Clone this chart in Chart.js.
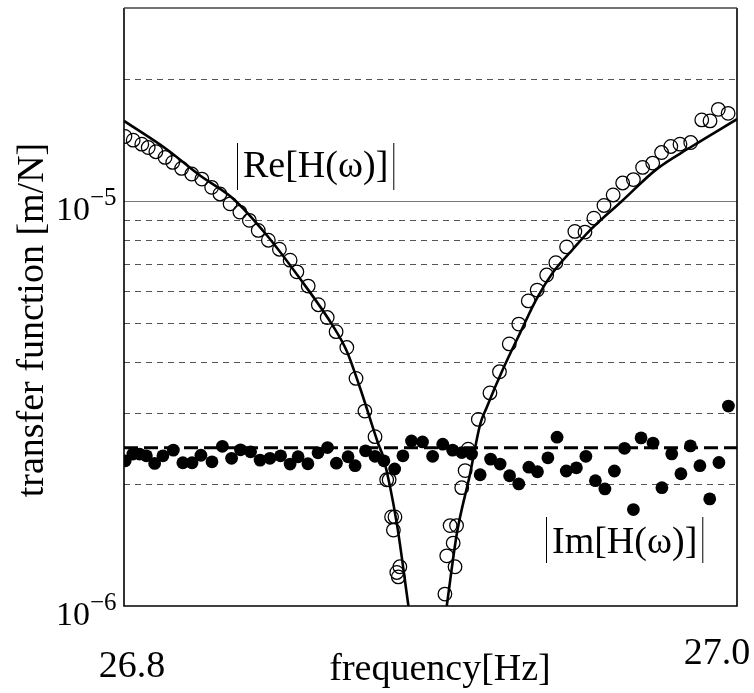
<!DOCTYPE html>
<html>
<head>
<meta charset="utf-8">
<script src="https://cdn.jsdelivr.net/npm/chart.js@4.4.0/dist/chart.umd.min.js"></script>
<style>
  html, body { margin: 0; padding: 0; background: #fff; }
  canvas { display: block; }
</style>
</head>
<body>
<canvas id="chart" width="754" height="693"></canvas>
<script>
// measured |Re[H(w)]| (open circles)
const reFreq = [26.8003, 26.8030, 26.8058, 26.8079, 26.8104, 26.8134, 26.8159, 26.8188, 26.8221, 26.8254,
  26.8286, 26.8313, 26.8346, 26.8378, 26.8409, 26.8438, 26.8471, 26.8507, 26.8542, 26.8564,
  26.8601, 26.8634, 26.8663, 26.8692, 26.8727, 26.8757, 26.8786, 26.8819, 26.8857, 26.8865,
  26.8873, 26.8884, 26.8879, 26.8900, 26.8890, 26.8895,
  26.9047, 26.9053, 26.9074, 26.9064, 26.9085, 26.9080, 26.9102, 26.9113, 26.9123, 26.9156,
  26.9194, 26.9225, 26.9257, 26.9288, 26.9319, 26.9348, 26.9379, 26.9409, 26.9444, 26.9471,
  26.9504, 26.9533, 26.9566, 26.9596, 26.9627, 26.9662, 26.9692, 26.9725, 26.9754, 26.9784,
  26.9814, 26.9849, 26.9885, 26.9912, 26.9939, 26.9971];
const reAmp = [14.45e-6, 14.15e-6, 13.83e-6, 13.57e-6, 13.25e-6, 12.83e-6, 12.47e-6, 12.05e-6, 11.67e-6, 11.34e-6,
  10.82e-6, 10.42e-6, 9.85e-6, 9.40e-6, 8.97e-6, 8.47e-6, 8.01e-6, 7.61e-6, 7.15e-6, 6.69e-6,
  6.17e-6, 5.55e-6, 5.16e-6, 4.76e-6, 4.35e-6, 3.65e-6, 3.03e-6, 2.62e-6, 2.05e-6, 2.05e-6,
  1.66e-6, 1.66e-6, 1.54e-6, 1.25e-6, 1.21e-6, 1.18e-6,
  1.07e-6, 1.33e-6, 1.43e-6, 1.58e-6, 1.58e-6, 1.25e-6, 1.96e-6, 2.16e-6, 2.44e-6, 2.89e-6,
  3.36e-6, 3.79e-6, 4.44e-6, 4.97e-6, 5.67e-6, 6.03e-6, 6.57e-6, 7.05e-6, 7.71e-6, 8.42e-6,
  8.39e-6, 9.08e-6, 9.76e-6, 10.36e-6, 11.09e-6, 11.31e-6, 12.12e-6, 12.42e-6, 13.19e-6, 13.65e-6,
  13.83e-6, 13.96e-6, 15.88e-6, 15.79e-6, 16.86e-6, 16.48e-6];

// measured |Im[H(w)]| (filled circles)
const imFreq = [26.8004, 26.8029, 26.8051, 26.8073, 26.8100, 26.8127, 26.8161, 26.8192, 26.8222, 26.8251,
  26.8287, 26.8321, 26.8351, 26.8380, 26.8413, 26.8444, 26.8476, 26.8511, 26.8542, 26.8568,
  26.8600, 26.8633, 26.8664, 26.8693, 26.8731, 26.8754, 26.8788, 26.8819, 26.8848, 26.8883,
  26.8910, 26.8938, 26.8974, 26.9007, 26.9040, 26.9072, 26.9102, 26.9134, 26.9162, 26.9196,
  26.9227, 26.9258, 26.9288, 26.9321, 26.9349, 26.9383, 26.9413, 26.9443, 26.9476, 26.9507,
  26.9538, 26.9569, 26.9600, 26.9633, 26.9662, 26.9687, 26.9726, 26.9755, 26.9787, 26.9817,
  26.9848, 26.9879, 26.9911, 26.9941, 26.9972];
const imAmp = [2.284e-6, 2.373e-6, 2.373e-6, 2.350e-6, 2.250e-6, 2.350e-6, 2.427e-6, 2.259e-6, 2.259e-6, 2.357e-6,
  2.271e-6, 2.480e-6, 2.317e-6, 2.431e-6, 2.404e-6, 2.293e-6, 2.317e-6, 2.350e-6, 2.242e-6, 2.337e-6,
  2.246e-6, 2.390e-6, 2.463e-6, 2.253e-6, 2.337e-6, 2.221e-6, 2.417e-6, 2.343e-6, 2.284e-6, 2.180e-6,
  2.350e-6, 2.557e-6, 2.543e-6, 2.343e-6, 2.510e-6, 2.427e-6, 2.394e-6, 2.373e-6, 2.110e-6, 2.306e-6,
  2.242e-6, 2.098e-6, 2.002e-6, 2.202e-6, 2.146e-6, 2.323e-6, 2.612e-6, 2.155e-6, 2.195e-6, 2.343e-6,
  2.040e-6, 1.946e-6, 2.155e-6, 2.452e-6, 1.731e-6, 2.602e-6, 2.526e-6, 1.960e-6, 2.376e-6, 2.122e-6,
  2.486e-6, 2.221e-6, 1.839e-6, 2.262e-6, 3.118e-6];

// fitted curve for |Re| (null splits the two branches)
const fitReFreq = [26.8000, 26.8139, 26.8248, 26.8357, 26.8466, 26.8574, 26.8683, 26.8727, 26.8770, 26.8830,
  26.8846, 26.8890, 26.8928, 26.8990,
  26.9053, 26.9086, 26.9129, 26.9162, 26.9183, 26.9238, 26.9292, 26.9347, 26.9401, 26.9466,
  26.9520, 26.9624, 26.9738, 26.9847, 27.0000];
const fitReAmp = [15.79e-6, 13.44e-6, 11.57e-6, 10.13e-6, 8.24e-6, 6.44e-6, 4.90e-6, 4.26e-6, 3.46e-6, 2.51e-6,
  2.33e-6, 1.60e-6, 1.00e-6, null,
  1.00e-6, 1.51e-6, 2.12e-6, 2.81e-6, 3.09e-6, 3.87e-6, 4.72e-6, 5.75e-6, 6.69e-6, 7.63e-6,
  8.47e-6, 10.0e-6, 12.0e-6, 13.57e-6, 15.95e-6];

// fitted level for |Im|
const fitImFreq = [26.8, 27.0];
const fitImAmp = [2.46e-6, 2.46e-6];

// axes
const xRange = [26.8, 27.0];
const yRange = [1e-6, 3e-5];
const gridValues = [2e-6, 3e-6, 4e-6, 5e-6, 6e-6, 7e-6, 8e-6, 9e-6, 1e-5, 2e-5];
const yTicks = [1e-6, 1e-5];
const yTickExp = ['\u22126', '\u22125'];
const xTicks = [26.8, 27.0];
const xTickLabels = ['26.8', '27.0'];

const SERIF = '"Liberation Serif", "DejaVu Serif", serif';

function pts(xs, ys) {
  return xs.map((x, i) => ({ x: x, y: ys[i] }));
}

const framePlugin = {
  id: 'frame',
  beforeDatasetsDraw(chart) {
    const { ctx, chartArea: a, scales: { y } } = chart;
    ctx.save();
    gridValues.forEach(v => {
      const py = Math.round(y.getPixelForValue(v)) + 0.5;
      ctx.beginPath();
      if (v === 1e-5) {
        ctx.setLineDash([]);
        ctx.strokeStyle = '#777';
        ctx.lineWidth = 1.2;
      } else {
        ctx.setLineDash([6, 5]);
        ctx.strokeStyle = '#555';
        ctx.lineWidth = 1;
      }
      ctx.moveTo(a.left, py);
      ctx.lineTo(a.right, py);
      ctx.stroke();
    });
    ctx.restore();
  },
  afterDatasetsDraw(chart) {
    const { ctx, chartArea: a, scales: { x, y } } = chart;
    ctx.save();
    // frame
    ctx.setLineDash([]);
    ctx.strokeStyle = '#000';
    ctx.lineWidth = 1.6;
    ctx.beginPath();
    ctx.moveTo(a.left, a.top);
    ctx.lineTo(a.left, a.bottom);
    ctx.lineTo(a.right, a.bottom);
    ctx.lineTo(a.right, a.top);
    ctx.stroke();
    ctx.strokeStyle = '#444';
    ctx.lineWidth = 1.4;
    ctx.beginPath();
    ctx.moveTo(a.left, a.top);
    ctx.lineTo(a.right, a.top);
    ctx.stroke();

    ctx.fillStyle = '#000';
    ctx.textBaseline = 'alphabetic';

    // y tick labels 10^n
    yTicks.forEach((v, i) => {
      const py = y.getPixelForValue(v);
      ctx.font = '34px ' + SERIF;
      ctx.textAlign = 'right';
      ctx.fillText('10', 90, py + 19);
      ctx.font = '25px ' + SERIF;
      ctx.textAlign = 'left';
      ctx.fillText(yTickExp[i], 90, py + 4);
    });

    // x tick labels
    ctx.font = '38px ' + SERIF;
    ctx.textAlign = 'center';
    ctx.fillText(xTickLabels[0], x.getPixelForValue(xTicks[0]) + 8, 677);
    ctx.fillText(xTickLabels[1], x.getPixelForValue(xTicks[1]) - 20, 664);

    // axis titles
    ctx.fillText('frequency[Hz]', 440, 680);
    ctx.save();
    ctx.translate(43, 320);
    ctx.rotate(-Math.PI / 2);
    ctx.fillText('transfer function [m/N]', 0, 0);
    ctx.restore();

    // curve labels with |...| bars
    ctx.textAlign = 'left';
    ctx.lineWidth = 1;
    const label = (txt, x0, base, top, bot) => {
      ctx.fillText(txt, x0 + 6, base);
      const w = ctx.measureText(txt).width;
      ctx.beginPath();
      ctx.moveTo(x0 + 0.5, top);
      ctx.lineTo(x0 + 0.5, bot);
      ctx.moveTo(x0 + w + 11.5, top);
      ctx.lineTo(x0 + w + 11.5, bot);
      ctx.strokeStyle = '#000';
      ctx.stroke();
    };
    label('Re[H(\u03c9)]', 237, 177, 143, 190);
    label('Im[H(\u03c9)]', 546, 553, 517, 563);
    ctx.restore();
  }
};

new Chart(document.getElementById('chart').getContext('2d'), {
  type: 'scatter',
  data: {
    datasets: [
      {
        label: '|Re| fit',
        data: pts(fitReFreq, fitReAmp),
        showLine: true,
        borderColor: '#000',
        borderWidth: 2.6,
        pointRadius: 0,
        cubicInterpolationMode: 'monotone',
        spanGaps: false,
        order: 0
      },
      {
        label: '|Im|',
        data: pts(imFreq, imAmp),
        pointStyle: 'circle',
        pointRadius: 6.4,
        backgroundColor: '#000',
        borderColor: '#000',
        borderWidth: 0,
        order: 1
      },
      {
        label: '|Re|',
        data: pts(reFreq, reAmp),
        pointStyle: 'circle',
        pointRadius: 6.8,
        backgroundColor: 'rgba(0,0,0,0)',
        borderColor: '#000',
        borderWidth: 1.25,
        order: 2
      },
      {
        label: '|Im| fit',
        data: pts(fitImFreq, fitImAmp),
        showLine: true,
        borderColor: '#000',
        borderWidth: 3,
        borderDash: [14, 6],
        pointRadius: 0,
        order: 3
      }
    ]
  },
  options: {
    responsive: false,
    animation: false,
    devicePixelRatio: 1,
    layout: { padding: { left: 124, right: 17, top: 5, bottom: 87 } },
    plugins: { legend: { display: false }, tooltip: { enabled: false } },
    scales: {
      x: { type: 'linear', min: xRange[0], max: xRange[1], display: false },
      y: { type: 'logarithmic', min: yRange[0], max: yRange[1], display: false }
    }
  },
  plugins: [framePlugin]
});
</script>
</body>
</html>
